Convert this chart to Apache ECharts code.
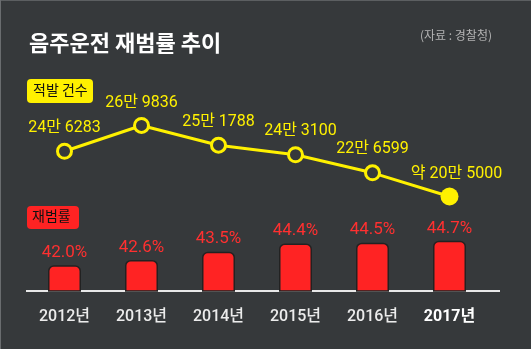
<!DOCTYPE html>
<html>
<head>
<meta charset="UTF-8">
<title>음주운전 재범률 추이</title>
<script src="https://cdn.jsdelivr.net/npm/echarts@6/dist/echarts.min.js"></script>
<style>
  html, body { margin: 0; padding: 0; background: #ffffff; }
  #main { width: 531px; height: 349px; }
</style>
</head>
<body>
<div id="main"></div>
<script type="text/javascript">
// 데이터
var years = ['2012년', '2013년', '2014년', '2015년', '2016년', '2017년'];
var arrests = [246283, 269836, 251788, 243100, 226599, 205000];
var arrestLabels = ['24만 6283', '26만 9836', '25만 1788', '24만 3100', '22만 6599', '약 20만 5000'];
var repeatRate = [42.0, 42.6, 43.5, 44.4, 44.5, 44.7];

var FONT = '"Noto Sans CJK KR", "Noto Sans", sans-serif';
var NUMFONT = 'Roboto, "Noto Sans CJK KR", sans-serif';
var BG = '#36393b';
var YELLOW = '#fff100';
var RED = '#ff2323';

var myChart = echarts.init(document.getElementById('main'));

var lineData = arrests.map(function (v, i) {
    var last = i === arrests.length - 1;
    var item = {
        value: v,
        label: { formatter: arrestLabels[i] }
    };
    if (last) {
        item.symbolSize = 18;
        item.itemStyle = { color: YELLOW, borderWidth: 0 };
        item.label.distance = 5;
        item.label.offset = [7, 0];
    }
    if (i === 1) item.label.distance = 6;
    if (i === 3) item.label.offset = [5, 0];
    return item;
});

var option = {
    backgroundColor: BG,
    textStyle: { fontFamily: FONT },
    title: [{
        text: '음주운전 재범률 추이',
        left: 24, top: 27,
        textStyle: { color: '#ffffff', fontSize: 22, fontWeight: 'bold', fontFamily: FONT }
    }, {
        text: '(자료 : 경찰청)',
        right: 34, top: 24,
        textStyle: { color: '#b4b4b4', fontSize: 12, fontWeight: 'normal', fontFamily: FONT }
    }],
    graphic: [
        { type: 'rect', left: 0, top: 0, shape: { width: 531, height: 1 }, style: { fill: '#5c5f61' } },
        { type: 'rect', left: 0, top: 0, shape: { width: 1, height: 349 }, style: { fill: '#6a6d6f' } },
        { type: 'rect', left: 27, top: 79, shape: { width: 66, height: 24, r: 4 }, style: { fill: YELLOW } },
        { type: 'text', left: 33, top: 83,
          style: { text: '적발 건수', fill: '#111', font: '14px ' + FONT } },
        { type: 'rect', left: 27, top: 206, shape: { width: 52, height: 23, r: 4 }, style: { fill: RED } },
        { type: 'text', left: 32, top: 209,
          style: { text: '재범률', fill: '#111', font: '14px ' + FONT } },
        { type: 'rect', left: 26, top: 290, shape: { width: 474, height: 2 }, style: { fill: '#e8e8e8' } }
    ],
    grid: [
        { left: 26, width: 462, top: 100, height: 100 },
        { left: 26, width: 462, top: 231, height: 60 }
    ],
    xAxis: [{
        gridIndex: 0, type: 'category', data: years,
        axisLine: { show: false }, axisTick: { show: false }, axisLabel: { show: false }
    }, {
        gridIndex: 1, type: 'category', data: years,
        axisLine: { show: false }, axisTick: { show: false },
        axisLabel: {
            interval: 0,
            margin: 18,
            fontSize: 16,
            fontWeight: 500,
            fontFamily: NUMFONT,
            color: '#ececec',
            formatter: function (v, i) { return i === years.length - 1 ? '{b|' + v + '}' : v; },
            rich: { b: { fontSize: 16, fontWeight: 'bold', color: '#ffffff', fontFamily: NUMFONT } }
        }
    }],
    yAxis: [{
        gridIndex: 0, type: 'value', min: 201800, max: 293070,
        show: false, splitLine: { show: false }
    }, {
        gridIndex: 1, type: 'value', min: 39.18, max: 45.78,
        show: false, splitLine: { show: false }
    }],
    series: [{
        type: 'line',
        xAxisIndex: 0, yAxisIndex: 0,
        data: lineData,
        symbol: 'circle',
        symbolSize: 14,
        lineStyle: { color: YELLOW, width: 3 },
        itemStyle: { color: BG, borderColor: YELLOW, borderWidth: 3 },
        label: {
            show: true, position: 'top', distance: 7,
            color: YELLOW, fontSize: 16, fontWeight: 'normal', fontFamily: NUMFONT
        },
        z: 3
    }, {
        type: 'bar',
        xAxisIndex: 1, yAxisIndex: 1,
        data: repeatRate,
        barWidth: 33,
        itemStyle: { color: RED, borderColor: '#222', borderWidth: 1.5, borderRadius: [5, 5, 0, 0] },
        label: {
            show: true, position: 'top', distance: 4,
            color: '#ff3030', fontSize: 17, fontFamily: NUMFONT,
            formatter: function (p) { return p.value.toFixed(1) + '%'; }
        }
    }]
};

myChart.setOption(option);
</script>
</body>
</html>
